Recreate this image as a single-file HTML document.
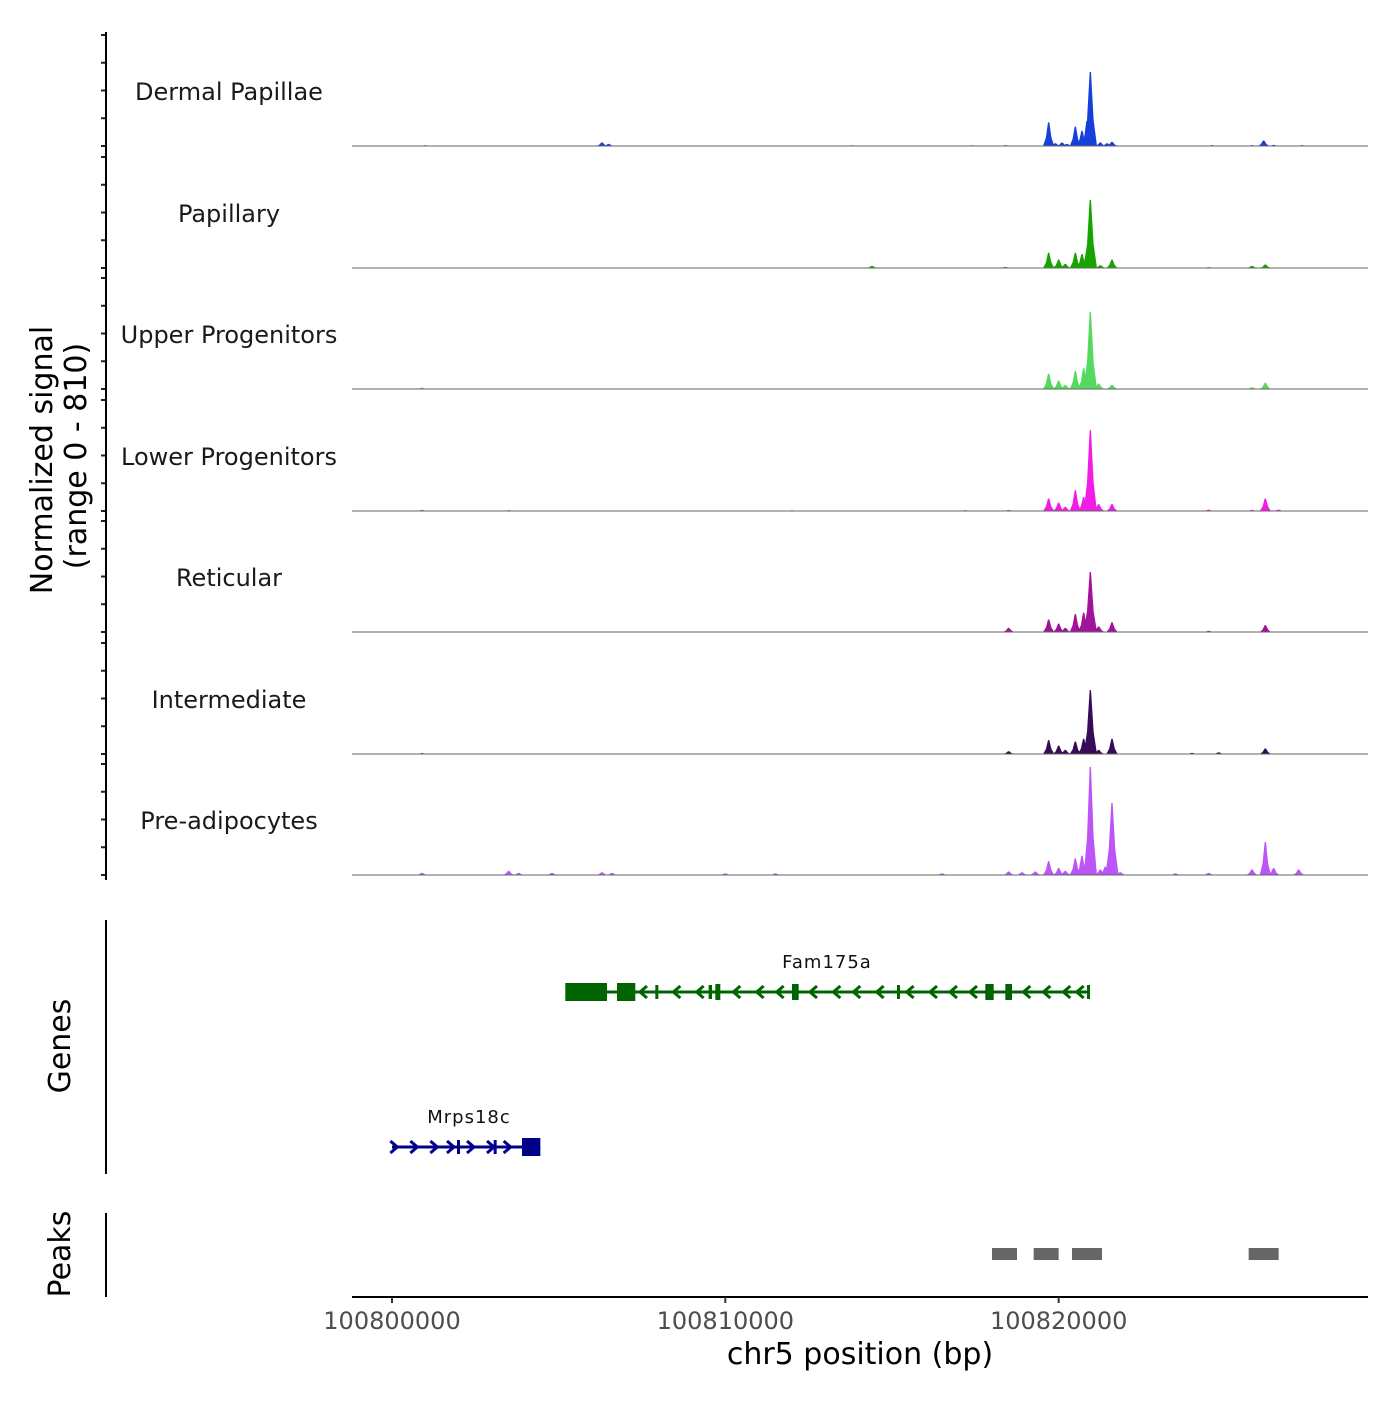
<!DOCTYPE html>
<html><head><meta charset="utf-8"><style>
body{margin:0;background:#fff}
svg text{font-family:"DejaVu Sans","Liberation Sans",sans-serif}
</style></head><body>
<svg id="c" width="1400" height="1400" viewBox="0 0 1400 1400" xmlns="http://www.w3.org/2000/svg"></svg>
<script>
const trackNames=["Dermal Papillae","Papillary","Upper Progenitors","Lower Progenitors","Reticular","Intermediate","Pre-adipocytes"];
const trackColors=["#1540dc","#17a300","#55d95e","#f01de6","#a3129b","#370b58","#bb55f7"];
// peaks: [position kb offset from 100800000, signal]
const peaksDermal=[[1.0,5],[6.3,25],[6.5,15],[13.8,5],[17.4,5],[18.4,6],[19.7,170],[19.9,20],[20.1,25],[20.25,15],[20.5,140],[20.7,110],[20.85,180],[20.95,533],[21.25,25],[21.45,20],[21.6,30],[24.6,6],[25.8,6],[26.15,40],[26.45,8],[27.3,6]];
const peaksPapillary=[[14.4,15],[18.4,8],[19.7,110],[20.0,60],[20.2,30],[20.5,110],[20.7,100],[20.85,130],[20.95,490],[21.25,20],[21.6,60],[24.5,6],[25.8,15],[26.2,25]];
const peaksUpper=[[0.9,10],[19.7,110],[20.0,60],[20.2,30],[20.5,130],[20.75,150],[20.95,555],[21.2,40],[21.6,30],[25.8,12],[26.2,45]];
const peaksLower=[[0.9,8],[3.5,6],[12.0,5],[17.2,6],[18.5,8],[19.7,90],[20.0,60],[20.2,30],[20.5,150],[20.75,100],[20.95,583],[21.2,50],[21.6,50],[24.5,10],[25.8,8],[26.2,90],[26.6,10]];
const peaksReticular=[[18.5,30],[19.7,90],[20.0,60],[20.2,30],[20.5,130],[20.75,140],[20.95,432],[21.2,40],[21.6,70],[24.5,8],[26.2,50]];
const peaksIntermediate=[[0.9,6],[18.5,20],[19.7,100],[20.0,60],[20.2,30],[20.5,90],[20.75,110],[20.95,460],[21.2,30],[21.6,110],[24,8],[24.8,12],[26.2,40]];
const peaksPre=[[0.9,15],[3.5,30],[3.8,15],[4.8,15],[6.3,20],[6.6,15],[10.0,12],[11.5,12],[16.5,12],[18.5,25],[18.9,20],[19.3,25],[19.7,100],[20.0,50],[20.2,30],[20.5,120],[20.7,140],[20.95,778],[21.25,40],[21.4,60],[21.6,519],[21.85,20],[23.5,12],[24.5,15],[25.8,40],[26.2,238],[26.45,50],[27.2,40]];
const trackPeaks=[peaksDermal,peaksPapillary,peaksUpper,peaksLower,peaksReticular,peaksIntermediate,peaksPre];
const xTicks=[100800000,100810000,100820000];
const yTickVals=[0,200,400,600,800];
const famStart=5.2, famEnd=20.9;
const famExons=[[5.2,6.45,18],[6.75,7.3,18],[7.9,7.95,14],[9.5,9.6,14],[9.7,9.85,16],[12.0,12.2,16],[15.15,15.2,14],[17.8,18.05,16],[18.4,18.6,16],[20.85,20.9,14]];
const famArrows=[7.5,8.5,9.2,10.3,11.0,11.6,12.6,13.3,13.9,14.6,15.5,16.2,16.8,17.4,19.0,19.6,20.2,20.6];
const mrpStart=0, mrpEnd=4.45;
const mrpExons=[[1.95,2.0,14],[3.05,3.1,14],[3.9,4.45,18]];
const mrpArrows=[0.1,0.7,1.3,1.8,2.4,3.0,3.5];
const peakRegions=[[18.0,18.75],[19.25,20.0],[20.4,21.3],[25.7,26.6]];

const svg=document.getElementById('c');const NS="http://www.w3.org/2000/svg";
function mk(t,a,p){const e=document.createElementNS(NS,t);for(const k in a)e.setAttribute(k,a[k]);(p||svg).appendChild(e);return e;}
const x=kb=>392+kb*33.333;
const xBp=bp=>x((bp-100800000)/1000);
const pxPerUnit=111/800;
const baselines=[146,268,389,511,632,754,875];

trackPeaks.forEach((pk,i)=>{
  const b=baselines[i];
  const g=mk('g',{});
  
  
  pk.forEach(p=>{
    const h=p[1]*pxPerUnit;
    const hw=h>40?0.2:0.17;
    const poly=mk('polygon',{points:`${x(p[0]-hw)},${b} ${x(p[0]-hw*0.5)},${b-h*0.35} ${x(p[0]-0.02)},${b-h} ${x(p[0]+0.02)},${b-h} ${x(p[0]+hw*0.5)},${b-h*0.35} ${x(p[0]+hw)},${b}`,fill:trackColors[i]},g);
    
    
  });
  const bl=mk('line',{x1:352,x2:1368,y1:b,y2:b,stroke:'#666','stroke-width':1},g);
  
  
  const t=mk('text',{x:229,y:b-46,'text-anchor':'middle','font-size':24,fill:'#1a1a1a'});
  t.textContent=trackNames[i];
  
  
  yTickVals.forEach(v=>{
    const tk=mk('line',{x1:101,x2:106,y1:b-v*pxPerUnit,y2:b-v*pxPerUnit,stroke:'#222','stroke-width':2});
    
    
  });
});
const ya=mk('line',{x1:106,x2:106,y1:32,y2:880,stroke:'#000','stroke-width':2});

const yt=mk('text',{transform:'translate(52,460) rotate(-90)','text-anchor':'middle','font-size':30,fill:'#000'});
yt.textContent='Normalized signal';

const yt2=mk('text',{transform:'translate(86,456) rotate(-90)','text-anchor':'middle','font-size':30,fill:'#000'});
yt2.textContent='(range 0 - 810)';


function gene(name,start,end,exons,arrows,y,color,dir,labelX){
  const g=mk('g',{});
  
  
  mk('line',{x1:x(start),x2:x(end),y1:y,y2:y,stroke:color,'stroke-width':3},g);
  exons.forEach(e=>{
    const w=Math.max(x(e[1])-x(e[0]),3);
    mk('rect',{x:x(e[0]),y:y-e[2]/2,width:w,height:e[2],fill:color},g);
  });
  arrows.forEach(a=>{
    const ax=x(a);
    mk('polyline',{points:`${ax-5*dir},${y-6} ${ax+2*dir},${y} ${ax-5*dir},${y+6}`,fill:'none',stroke:color,'stroke-width':3},g);
  });
  const t=mk('text',{x:labelX,y:y-24,'text-anchor':'middle','font-size':18,fill:'#111','letter-spacing':'1'},g);
  t.textContent=name;
}
gene('Fam175a',famStart,famEnd,famExons,famArrows,992,'#006400',-1,827);
gene('Mrps18c',mrpStart,mrpEnd,mrpExons,mrpArrows,1147,'#00008b',1,469);
const ga=mk('line',{x1:106,x2:106,y1:920,y2:1174,stroke:'#000','stroke-width':2});

const gt=mk('text',{transform:'translate(70,1046) rotate(-90)','text-anchor':'middle','font-size':30,fill:'#000'});
gt.textContent='Genes';

peakRegions.forEach(r=>{
  const pr=mk('rect',{x:x(r[0]),y:1248,width:x(r[1])-x(r[0]),height:12,fill:'#666'});
  
});
const pa=mk('line',{x1:106,x2:106,y1:1213,y2:1297,stroke:'#000','stroke-width':2});

const pt=mk('text',{transform:'translate(70,1254) rotate(-90)','text-anchor':'middle','font-size':30,fill:'#000'});
pt.textContent='Peaks';

const xa=mk('line',{x1:352,x2:1368,y1:1297,y2:1297,stroke:'#000','stroke-width':2});

xTicks.forEach(v=>{
  const tk=mk('line',{x1:xBp(v),x2:xBp(v),y1:1297,y2:1303,stroke:'#333','stroke-width':2});
  
  const tl=mk('text',{x:xBp(v),y:1329,'text-anchor':'middle','font-size':24,fill:'#4d4d4d'});
  tl.textContent=String(v);
  
});
const xt=mk('text',{x:860,y:1364,'text-anchor':'middle','font-size':30,fill:'#000'});
xt.textContent='chr5 position (bp)';

</script>
</body></html>
